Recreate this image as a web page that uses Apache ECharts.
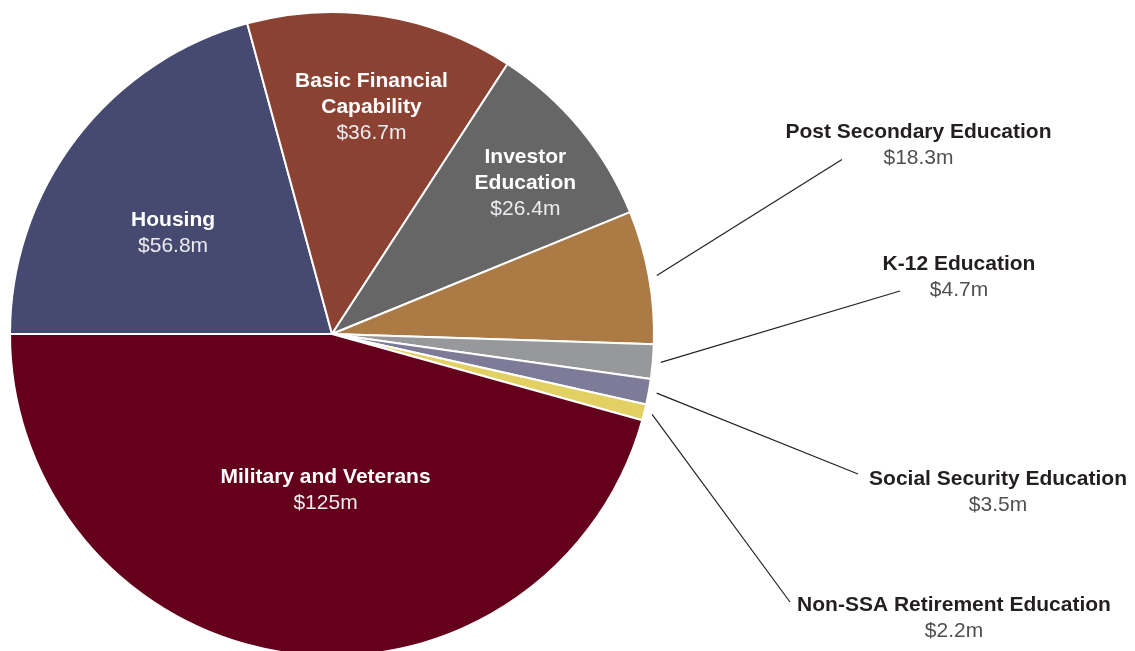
<!DOCTYPE html>
<html><head><meta charset="utf-8">
<script src="https://cdn.jsdelivr.net/npm/echarts@6/dist/echarts.min.js"></script>
<style>html,body{margin:0;padding:0;background:#fff}#c{width:1135px;height:651px}</style>
</head><body><div id="c"></div>
<script>
// ---- data ----
const categories = ['Housing', 'Basic Financial Capability', 'Investor Education', 'Post Secondary Education',
  'K-12 Education', 'Social Security Education', 'Non-SSA Retirement Education', 'Military and Veterans'];
const values = [56.8, 36.7, 26.4, 18.3, 4.7, 3.5, 2.2, 125];
const outsideLabels = ['Post Secondary Education', 'K-12 Education', 'Social Security Education', 'Non-SSA Retirement Education'];
const lineBreaks = { 'Basic Financial Capability': 'Basic Financial\nCapability', 'Investor Education': 'Investor\nEducation' };

// ---- styling ----
const colors = ['#464a70', '#8b4232', '#666666', '#ac7a45', '#96989a', '#7e7b99', '#e3d062', '#65001c'];
const FONT = "'Liberation Sans', Arial, Helvetica, sans-serif";
const CX = 332, CY = 334, R = 322;
const insideShift = {
  'Housing': [-28.6, -0.8],
  'Basic Financial Capability': [14.1, -64.6],
  'Investor Education': [67, -46.3],
  'Military and Veterans': [15.7, -5.8]
};
const outsidePlace = {
  'Post Secondary Education': { x: 918.5, y: 145.6, ex: -76.5, ey: 14 },
  'K-12 Education': { x: 959, y: 277, ex: -59, ey: 14 },
  'Social Security Education': { x: 998, y: 492, ex: -140, ey: -18 },
  'Non-SSA Retirement Education': { x: 954, y: 618.5, ex: -164, ey: -16.5 }
};
const richIn = {
  n: { fontFamily: FONT, fontSize: 21, fontWeight: 'bold', color: '#ffffff', lineHeight: 26 },
  v: { fontFamily: FONT, fontSize: 21, fontWeight: 'normal', color: '#ececf0', lineHeight: 26 }
};
const richOut = {
  n: { fontFamily: FONT, fontSize: 21, fontWeight: 'bold', color: '#231f20', lineHeight: 26 },
  v: { fontFamily: FONT, fontSize: 21, fontWeight: 'normal', color: '#505050', lineHeight: 26 }
};

const data = categories.map((name, i) => {
  const out = outsideLabels.includes(name);
  return {
    name: name,
    value: values[i],
    itemStyle: { color: colors[i] },
    label: out ? { position: 'outside', rich: richOut } : { position: 'inside', rich: richIn },
    labelLine: { show: out }
  };
});

const chart = echarts.init(document.getElementById('c'), null, { renderer: 'canvas' });
chart.setOption({
  backgroundColor: '#ffffff',
  animation: false,
  series: [{
    type: 'pie',
    center: [CX, CY],
    radius: R,
    startAngle: 180,
    clockwise: true,
    avoidLabelOverlap: false,
    itemStyle: { borderColor: '#ffffff', borderWidth: 2 },
    label: {
      show: true,
      align: 'center',
      textBorderWidth: 0,
      formatter: function (p) {
        const nm = lineBreaks[p.name] || p.name;
        return '{n|' + nm + '}\n{v|$' + p.value + 'm}';
      }
    },
    labelLine: { show: true, length: 20, length2: 0, smooth: false, lineStyle: { color: '#222222', width: 1.2 } },
    labelLayout: function (p) {
      const name = categories[p.dataIndex];
      const o = outsidePlace[name];
      if (o) {
        const res = { x: o.x, y: o.y, align: 'center', verticalAlign: 'middle' };
        const pts = p.labelLinePoints;
        if (pts && pts.length >= 2) {
          const dx = pts[1][0] - pts[0][0], dy = pts[1][1] - pts[0][1];
          const len = Math.hypot(dx, dy) || 1;
          const start = [pts[0][0] + dx / len * 8, pts[0][1] + dy / len * 8];
          res.labelLinePoints = [start, [o.x + o.ex, o.y + o.ey]];
        }
        return res;
      }
      const s = insideShift[name];
      return s ? { dx: s[0], dy: s[1] } : {};
    },
    data: data
  }]
});
</script>
</body></html>
